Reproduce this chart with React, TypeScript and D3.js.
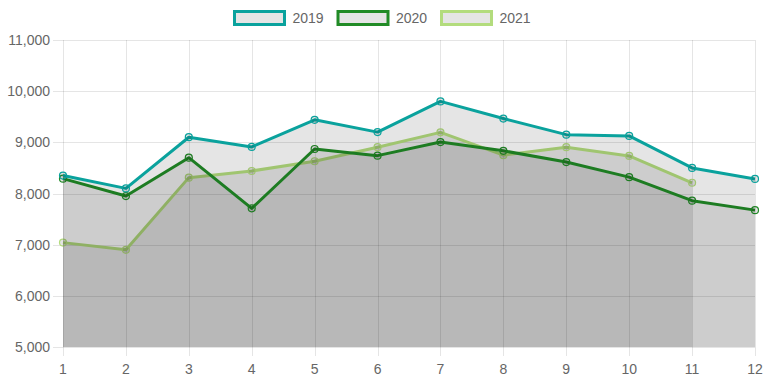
import React from "react";
import * as d3 from "d3";

const months = [1, 2, 3, 4, 5, 6, 7, 8, 9, 10, 11, 12];
const seriesNames = ["2019", "2020", "2021"];
const values2019 = [8350, 8100, 9100, 8910, 9440, 9200, 9800, 9465, 9150, 9125, 8500, 8285];
const values2020 = [8290, 7950, 8700, 7710, 8870, 8740, 9005, 8835, 8615, 8320, 7860, 7675];
const values2021 = [7040, 6900, 8310, 8440, 8630, 8905, 9195, 8750, 8905, 8735, 8210];
const yTicks = [5000, 6000, 7000, 8000, 9000, 10000, 11000];
const colors = ["#0aa29d", "#218b26", "#b3dc7d"];

const W = 767;
const H = 383;
const left = 63;
const right = 755;
const top = 40;
const bottom = 347;
const FILL = "rgba(0,0,0,0.1)";
const GRID = "rgba(0,0,0,0.1)";
const FONT = "'Liberation Sans', Arial, Helvetica, sans-serif";

export default function App() {
  const x = d3.scaleLinear().domain([1, 12]).range([left, right]);
  const y = d3.scaleLinear().domain([5000, 11000]).range([bottom, top]);
  const all = [values2019, values2020, values2021];
  const line = d3.line<number>().x((_, i) => x(months[i])).y((d) => y(d));
  const area = d3
    .area<number>()
    .x((_, i) => x(months[i]))
    .y0(y(5000))
    .y1((d) => y(d));
  const fmt = d3.format(",");
  // Chart.js draws the last dataset first
  const order = [2, 1, 0];

  return (
    <svg
      width={W}
      height={H}
      style={{ position: "absolute", left: 0, top: 0, display: "block" }}
      fontFamily={FONT}
    >
      <rect x={0} y={0} width={W} height={H} fill="#fff" />
      {/* grid */}
      {yTicks.map((t) => (
        <line
          key={"h" + t}
          x1={left - 10}
          x2={right}
          y1={Math.round(y(t)) + 0.5}
          y2={Math.round(y(t)) + 0.5}
          stroke={GRID}
          strokeWidth={1}
        />
      ))}
      {months.map((m) => (
        <line
          key={"v" + m}
          x1={Math.round(x(m)) + 0.5}
          x2={Math.round(x(m)) + 0.5}
          y1={top}
          y2={bottom + 9}
          stroke={GRID}
          strokeWidth={1}
        />
      ))}
      {/* datasets */}
      {order.map((si) => {
        const vals = all[si];
        return (
          <g key={"s" + si}>
            <path d={area(vals) || ""} fill={FILL} stroke="none" />
            <path
              d={line(vals) || ""}
              fill="none"
              stroke={colors[si]}
              strokeWidth={3}
              strokeLinejoin="round"
            />
            {vals.map((v, i) => (
              <circle
                key={i}
                cx={x(months[i])}
                cy={y(v)}
                r={3.5}
                fill={FILL}
                stroke={colors[si]}
                strokeWidth={1.2}
              />
            ))}
          </g>
        );
      })}
      {/* y labels */}
      {yTicks.map((t) => (
        <text
          key={"yl" + t}
          x={50}
          y={y(t)}
          dy="0.36em"
          textAnchor="end"
          fontSize={14}
          fill="#666"
        >
          {fmt(t)}
        </text>
      ))}
      {/* x labels */}
      {months.map((m) => (
        <text
          key={"xl" + m}
          x={x(m)}
          y={373.5}
          textAnchor="middle"
          fontSize={14}
          fill="#666"
        >
          {m}
        </text>
      ))}
      {/* legend */}
      {seriesNames.map((name, i) => {
        const bx = 234.5 + i * 103.5;
        return (
          <g key={"lg" + name}>
            <rect
              x={bx}
              y={11.5}
              width={50}
              height={13}
              fill={FILL}
              stroke={colors[i]}
              strokeWidth={3}
            />
            <text x={bx + 58} y={22.5} fontSize={14} fill="#666">
              {name}
            </text>
          </g>
        );
      })}
    </svg>
  );
}
